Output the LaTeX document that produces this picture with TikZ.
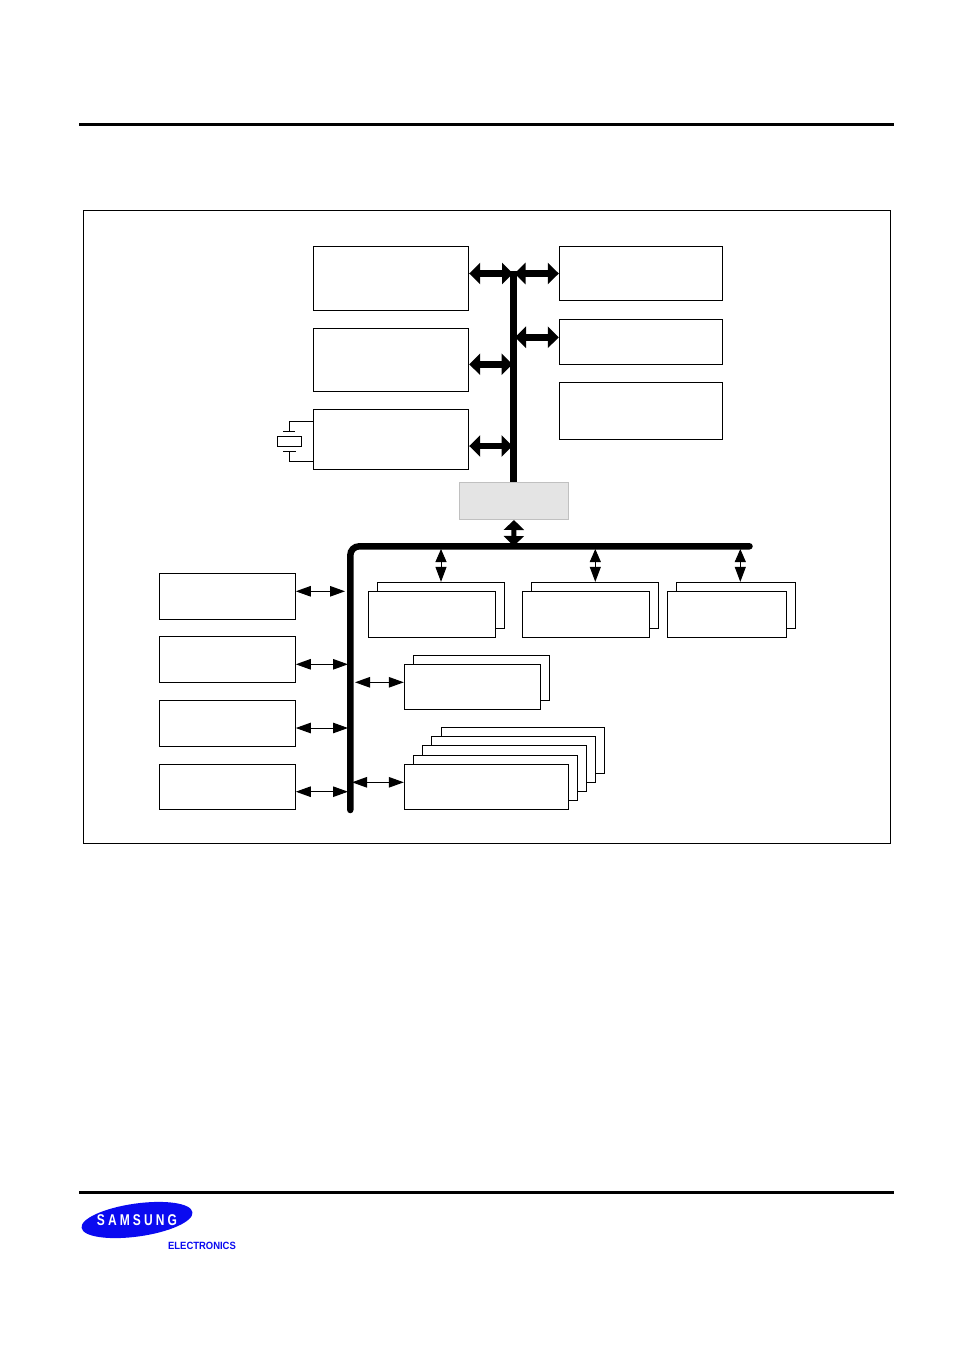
\documentclass[tikz,border=0pt]{standalone}
\usepackage{fontspec}
\setmainfont{Liberation Sans}
\newfontfamily\logofont[LetterSpace=26]{Liberation Sans}
\usetikzlibrary{arrows.meta,positioning,shapes.geometric}
\definecolor{bridgefill}{HTML}{E4E4E4}
\definecolor{bridgeline}{HTML}{C0C0C0}
\definecolor{logoblue}{HTML}{0A0AF0}
\tikzset{
  sz/.style 2 args={minimum width=#1pt, minimum height=#2pt},
  blk/.style={rectangle, draw, line width=1pt, fill=white, inner sep=0pt},
  bridge/.style={rectangle, draw=bridgeline, line width=1pt, fill=bridgefill, inner sep=0pt},
  rule/.style={line width=3pt},
  bus/.style={line width=7pt},
  lowbus/.style={line width=6.5pt, line cap=round, rounded corners=9pt},
  fatarrow/.style={line width=6.5pt, {Triangle[width=21pt,length=11pt]}-{Triangle[width=21pt,length=11pt]}},
  thinarrow/.style={line width=1pt, {Triangle[width=10.5pt,length=15pt]}-{Triangle[width=10.5pt,length=15pt]}},
  droparrow/.style={line width=1pt, {Triangle[width=11pt,length=13pt]}-{Triangle[width=11pt,length=15pt]}},
  wire/.style={line width=0.8pt}
}
\begin{document}
\begin{tikzpicture}[x=1pt,y=-1pt]
  \useasboundingbox (0,0) rectangle (954,1351);

  % Page rules
  \coordinate (ruleTL) at (79,124.5);
  \coordinate (ruleTR) at (894,124.5);
  \coordinate (ruleBL) at (79,1192);
  \coordinate (ruleBR) at (894,1192);
  \draw[rule] (ruleTL) -- (ruleTR);
  \draw[rule] (ruleBL) -- (ruleBR);

  % Outer frame
  \node[blk, sz={807}{632.5}] (frame) at (487,526.8) {};

  % Upper blocks
  \node[blk, sz={155.4}{64.3}] (upL1) at (391,278.2) {};
  \node[blk, sz={155.4}{63}] (upL2) at (391,359.8) {};
  \node[blk, sz={155.4}{59.7}] (upL3) at (391,439.2) {};
  \node[blk, sz={163.4}{54.3}] (upR1) at (641,273.2) {};
  \node[blk, sz={163.4}{45}] (upR2) at (641,341.8) {};
  \node[blk, sz={163.4}{57}] (upR3) at (641,410.8) {};
  \node[bridge, sz={109.4}{36.7}] (brg) at (514,500.7) {};

  % Crystal
  \node[blk, line width=0.8pt, sz={24.4}{10.4}] (xtal) at (289.5,441.5) {};
  \coordinate (plateA1) at (283,431.3);
  \coordinate (plateA2) at (295,431.3);
  \coordinate (plateB1) at (283,451.3);
  \coordinate (plateB2) at (296,451.3);
  \coordinate (xtalIn) at (289.3,421.3);
  \coordinate (xtalOut) at (289.3,461.3);
  \draw[wire] (plateA1) -- (plateA2);
  \draw[wire] (plateB1) -- (plateB2);
  \draw[wire] (xtalIn -| upL3.west) -- (xtalIn) -- (xtalIn |- plateA1);
  \draw[wire] (xtalOut -| upL3.west) -- (xtalOut) -- (xtalOut |- plateB1);

  % Upper bus
  \coordinate (busTop) at (513.5,271);
  \draw[bus] (busTop) -- (busTop |- brg.north);

  % Taps on the upper bus
  \coordinate (tapL1) at (513,273.5);
  \coordinate (tapL2) at (512.5,364.3);
  \coordinate (tapL3) at (512.5,446);
  \coordinate (tapR1) at (514.5,273.5);
  \coordinate (tapR2) at (515,337.3);
  \foreach \blk/\tap in {upL1/tapL1, upL2/tapL2, upL3/tapL3}{
    \draw[fatarrow] (\blk.east |- \tap) -- (\tap);
  }
  \foreach \blk/\tap in {upR1/tapR1, upR2/tapR2}{
    \draw[fatarrow] (\tap) -- (\blk.west |- \tap);
  }

  % Lower bus
  \coordinate (lowEnd) at (749.5,546.3);
  \coordinate (lowCorner) at (350.3,546.3);
  \coordinate (lowFoot) at (350.3,810);
  \draw[lowbus] (lowEnd) -- (lowCorner) -- (lowFoot);

  % Bridge to lower bus
  \coordinate (brgTap) at (513.7,546);
  \draw[line width=5pt, {Triangle[width=20pt,length=10pt]}-{Triangle[width=20pt,length=10pt]}] (brg.south |- 0,520) -- (brgTap);

  % Left blocks
  \node[blk, sz={136}{45.7}] (lowL1) at (227.3,596.2) {};
  \node[blk, sz={136}{45.7}] (lowL2) at (227.3,659.5) {};
  \node[blk, sz={136}{45.7}] (lowL3) at (227.3,723.2) {};
  \node[blk, sz={136}{45}] (lowL4) at (227.3,786.8) {};
  \coordinate (tapA) at (345,591.3);
  \coordinate (tapB) at (348,664.3);
  \coordinate (tapC) at (348,728);
  \coordinate (tapD) at (348,791.7);
  \foreach \blk/\tap in {lowL1/tapA, lowL2/tapB, lowL3/tapC, lowL4/tapD}{
    \draw[thinarrow] (\blk.east |- \tap) -- (\tap);
  }

  % Double blocks under the lower bus
  \node[blk, sz={127.4}{45.7}] (dblAb) at (441,605.2) {};
  \node[blk, sz={127.4}{45.7}] (dblAf) at (432,614.2) {};
  \node[blk, sz={127.4}{45.7}] (dblBb) at (595,605.2) {};
  \node[blk, sz={127.4}{45.7}] (dblBf) at (586,614.2) {};
  \node[blk, sz={119}{45.7}] (dblCb) at (736.2,605.2) {};
  \node[blk, sz={118.6}{45.7}] (dblCf) at (727,614.2) {};
  \coordinate (drpA) at (441,549);
  \coordinate (drpB) at (595.3,549);
  \coordinate (drpC) at (740.3,549);
  \foreach \blk/\tap in {dblAb/drpA, dblBb/drpB, dblCb/drpC}{
    \draw[droparrow] (\tap) -- (\tap |- \blk.north);
  }

  % Double block, middle
  \node[blk, sz={136}{45}] (dblDb) at (481.3,677.8) {};
  \node[blk, sz={136}{45}] (dblDf) at (472.3,686.8) {};
  \coordinate (tapE) at (355,682.3);
  \draw[thinarrow] (tapE) -- (tapE -| dblDf.west);

  % Stack of five
  \node[blk, sz={163.4}{45.3}] (stk5) at (523,750.6) {};
  \node[blk, sz={164.4}{45.6}] (stk4) at (513.5,759.5) {};
  \node[blk, sz={164.4}{45.6}] (stk3) at (504.5,768.5) {};
  \node[blk, sz={164.4}{45}] (stk2) at (495.5,777.8) {};
  \node[blk, sz={164.4}{45}] (stk1) at (486.5,786.8) {};
  \coordinate (tapF) at (352,782.3);
  \draw[thinarrow] (tapF) -- (tapF -| stk1.west);

  % Logo
  \node[ellipse, fill=logoblue, inner sep=0pt, minimum width=112pt, minimum height=33pt, rotate=8] (logo) at (137,1220) {};
  \node[text=white, font=\logofont\bfseries\fontsize{12}{12}\selectfont, yscale=1.3, inner sep=0pt] (logoName) at (137,1220.5) {SAMSUNG};
  \node[text=logoblue, font=\bfseries\fontsize{10.5}{11}\selectfont, xscale=0.9, inner sep=0pt, anchor=center] (logoSub) at (202,1246) {ELECTRONICS};
\end{tikzpicture}
\end{document}
